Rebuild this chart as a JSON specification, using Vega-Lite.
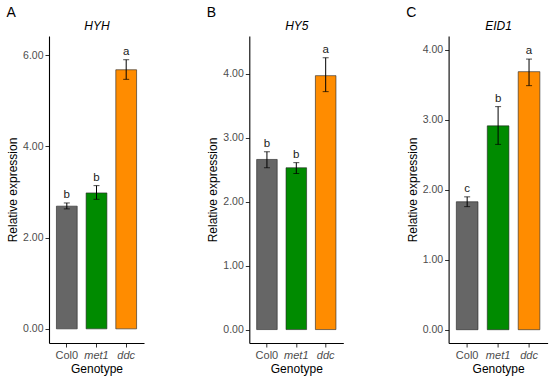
{
  "$schema": "https://vega.github.io/schema/vega-lite/v6.json",
  "padding": {"left": 6, "top": 6, "right": 3, "bottom": 2},
  "background": "white",
  "data": {"values": [
    {"gene": "HYH", "genotype": "Col0", "mean": 2.69, "lo": 2.63, "hi": 2.76, "letter": "b"},
    {"gene": "HYH", "genotype": "met1", "mean": 2.98, "lo": 2.84, "hi": 3.14, "letter": "b"},
    {"gene": "HYH", "genotype": "ddc", "mean": 5.68, "lo": 5.47, "hi": 5.90, "letter": "a"},
    {"gene": "HY5", "genotype": "Col0", "mean": 2.66, "lo": 2.53, "hi": 2.78, "letter": "b"},
    {"gene": "HY5", "genotype": "met1", "mean": 2.53, "lo": 2.44, "hi": 2.61, "letter": "b"},
    {"gene": "HY5", "genotype": "ddc", "mean": 3.97, "lo": 3.72, "hi": 4.25, "letter": "a"},
    {"gene": "EID1", "genotype": "Col0", "mean": 1.83, "lo": 1.76, "hi": 1.90, "letter": "c"},
    {"gene": "EID1", "genotype": "met1", "mean": 2.915, "lo": 2.65, "hi": 3.19, "letter": "b"},
    {"gene": "EID1", "genotype": "ddc", "mean": 3.69, "lo": 3.49, "hi": 3.87, "letter": "a"}
  ]},
  "spacing": 62.3,
  "hconcat": [
    {
      "width": 95, "height": 307,
      "title": {"text": "A"},
      "transform": [{"filter": "datum.gene == 'HYH'"}],
      "resolve": {"axis": {"x": "independent"}},
      "layer": [
        {"mark": {"type": "bar", "stroke": "#222222", "strokeWidth": 0.6},
         "encoding": {
           "x": {"field": "genotype", "type": "nominal", "sort": ["Col0", "met1", "ddc"], "title": "Genotype",
                 "scale": {"paddingInner": 0.3, "paddingOuter": 0.25}, "axis": {"orient": "bottom"}},
           "y": {"field": "mean", "type": "quantitative", "title": "Relative expression",
                 "scale": {"domain": [-0.31, 6.42], "nice": false, "zero": false},
                 "axis": {"values": [0, 2, 4, 6], "format": ".2f"}},
           "y2": {"datum": 0},
           "color": {"field": "genotype", "type": "nominal", "legend": null,
                     "scale": {"domain": ["Col0", "met1", "ddc"], "range": ["#666666", "#008B00", "#FF8C00"]}}
         }},
        {"mark": {"type": "rule", "color": "black", "strokeWidth": 1},
         "encoding": {"x": {"field": "genotype", "type": "nominal", "sort": ["Col0", "met1", "ddc"], "axis": null},
                      "y": {"field": "lo", "type": "quantitative", "title": "Relative expression"}, "y2": {"field": "hi"}}},
        {"mark": {"type": "tick", "color": "black", "thickness": 1, "size": 6},
         "encoding": {"x": {"field": "genotype", "type": "nominal", "sort": ["Col0", "met1", "ddc"], "axis": null},
                      "y": {"field": "lo", "type": "quantitative", "title": "Relative expression"}}},
        {"mark": {"type": "tick", "color": "black", "thickness": 1, "size": 6},
         "encoding": {"x": {"field": "genotype", "type": "nominal", "sort": ["Col0", "met1", "ddc"], "axis": null},
                      "y": {"field": "hi", "type": "quantitative", "title": "Relative expression"}}},
        {"mark": {"type": "text", "dy": -8, "fontSize": 11.5, "color": "#1a1a1a", "baseline": "middle"},
         "encoding": {"x": {"field": "genotype", "type": "nominal", "sort": ["Col0", "met1", "ddc"], "axis": null},
                      "y": {"field": "hi", "type": "quantitative", "title": "Relative expression"}, "text": {"field": "letter"}}},
        {"mark": {"type": "rule", "opacity": 0},
         "encoding": {"x": {"field": "genotype", "type": "nominal", "sort": ["Col0", "met1", "ddc"], "title": "HYH",
                            "axis": {"orient": "top", "domain": false, "ticks": false, "labels": false, "titleFontStyle": "italic", "titleColor": "black", "titleFontSize": 12, "titlePadding": 4}}}}
      ]
    },
    {
      "width": 94, "height": 307,
      "title": {"text": "B"},
      "transform": [{"filter": "datum.gene == 'HY5'"}],
      "resolve": {"axis": {"x": "independent"}},
      "layer": [
        {"mark": {"type": "bar", "stroke": "#222222", "strokeWidth": 0.6},
         "encoding": {
           "x": {"field": "genotype", "type": "nominal", "sort": ["Col0", "met1", "ddc"], "title": "Genotype",
                 "scale": {"paddingInner": 0.3, "paddingOuter": 0.25}, "axis": {"orient": "bottom"}},
           "y": {"field": "mean", "type": "quantitative", "title": "Relative expression",
                 "scale": {"domain": [-0.21, 4.59], "nice": false, "zero": false},
                 "axis": {"values": [0, 1, 2, 3, 4], "format": ".2f"}},
           "y2": {"datum": 0},
           "color": {"field": "genotype", "type": "nominal", "legend": null,
                     "scale": {"domain": ["Col0", "met1", "ddc"], "range": ["#666666", "#008B00", "#FF8C00"]}}
         }},
        {"mark": {"type": "rule", "color": "black", "strokeWidth": 1},
         "encoding": {"x": {"field": "genotype", "type": "nominal", "sort": ["Col0", "met1", "ddc"], "axis": null},
                      "y": {"field": "lo", "type": "quantitative", "title": "Relative expression"}, "y2": {"field": "hi"}}},
        {"mark": {"type": "tick", "color": "black", "thickness": 1, "size": 6},
         "encoding": {"x": {"field": "genotype", "type": "nominal", "sort": ["Col0", "met1", "ddc"], "axis": null},
                      "y": {"field": "lo", "type": "quantitative", "title": "Relative expression"}}},
        {"mark": {"type": "tick", "color": "black", "thickness": 1, "size": 6},
         "encoding": {"x": {"field": "genotype", "type": "nominal", "sort": ["Col0", "met1", "ddc"], "axis": null},
                      "y": {"field": "hi", "type": "quantitative", "title": "Relative expression"}}},
        {"mark": {"type": "text", "dy": -8, "fontSize": 11.5, "color": "#1a1a1a", "baseline": "middle"},
         "encoding": {"x": {"field": "genotype", "type": "nominal", "sort": ["Col0", "met1", "ddc"], "axis": null},
                      "y": {"field": "hi", "type": "quantitative", "title": "Relative expression"}, "text": {"field": "letter"}}},
        {"mark": {"type": "rule", "opacity": 0},
         "encoding": {"x": {"field": "genotype", "type": "nominal", "sort": ["Col0", "met1", "ddc"], "title": "HY5",
                            "axis": {"orient": "top", "domain": false, "ticks": false, "labels": false, "titleFontStyle": "italic", "titleColor": "black", "titleFontSize": 12, "titlePadding": 4}}}}
      ]
    },
    {
      "width": 99, "height": 307,
      "title": {"text": "C"},
      "transform": [{"filter": "datum.gene == 'EID1'"}],
      "resolve": {"axis": {"x": "independent"}},
      "layer": [
        {"mark": {"type": "bar", "stroke": "#222222", "strokeWidth": 0.6},
         "encoding": {
           "x": {"field": "genotype", "type": "nominal", "sort": ["Col0", "met1", "ddc"], "title": "Genotype",
                 "scale": {"paddingInner": 0.3, "paddingOuter": 0.25}, "axis": {"orient": "bottom"}},
           "y": {"field": "mean", "type": "quantitative", "title": "Relative expression",
                 "scale": {"domain": [-0.19, 4.2], "nice": false, "zero": false},
                 "axis": {"values": [0, 1, 2, 3, 4], "format": ".2f"}},
           "y2": {"datum": 0},
           "color": {"field": "genotype", "type": "nominal", "legend": null,
                     "scale": {"domain": ["Col0", "met1", "ddc"], "range": ["#666666", "#008B00", "#FF8C00"]}}
         }},
        {"mark": {"type": "rule", "color": "black", "strokeWidth": 1},
         "encoding": {"x": {"field": "genotype", "type": "nominal", "sort": ["Col0", "met1", "ddc"], "axis": null},
                      "y": {"field": "lo", "type": "quantitative", "title": "Relative expression"}, "y2": {"field": "hi"}}},
        {"mark": {"type": "tick", "color": "black", "thickness": 1, "size": 6},
         "encoding": {"x": {"field": "genotype", "type": "nominal", "sort": ["Col0", "met1", "ddc"], "axis": null},
                      "y": {"field": "lo", "type": "quantitative", "title": "Relative expression"}}},
        {"mark": {"type": "tick", "color": "black", "thickness": 1, "size": 6},
         "encoding": {"x": {"field": "genotype", "type": "nominal", "sort": ["Col0", "met1", "ddc"], "axis": null},
                      "y": {"field": "hi", "type": "quantitative", "title": "Relative expression"}}},
        {"mark": {"type": "text", "dy": -8, "fontSize": 11.5, "color": "#1a1a1a", "baseline": "middle"},
         "encoding": {"x": {"field": "genotype", "type": "nominal", "sort": ["Col0", "met1", "ddc"], "axis": null},
                      "y": {"field": "hi", "type": "quantitative", "title": "Relative expression"}, "text": {"field": "letter"}}},
        {"mark": {"type": "rule", "opacity": 0},
         "encoding": {"x": {"field": "genotype", "type": "nominal", "sort": ["Col0", "met1", "ddc"], "title": "EID1",
                            "axis": {"orient": "top", "domain": false, "ticks": false, "labels": false, "titleFontStyle": "italic", "titleColor": "black", "titleFontSize": 12, "titlePadding": 4}}}}
      ]
    }
  ],
  "config": {
    "font": "Liberation Sans",
    "view": {"stroke": null},
    "title": {"anchor": "start", "frame": "bounds", "fontSize": 14, "fontWeight": "normal", "color": "black", "offset": -1},
    "axis": {
      "grid": false,
      "domainColor": "black", "domainWidth": 1.1,
      "tickColor": "#333333", "tickSize": 4, "tickWidth": 1,
      "labelColor": "#4d4d4d", "labelFontSize": 10.5, "labelPadding": 2,
      "titleColor": "black", "titleFontSize": 12, "titleFontWeight": "normal"
    },
    "axisY": {"titlePadding": 3},
    "axisX": {"labelAngle": 0, "labelFontSize": 11, "titlePadding": 3,
              "labelFontStyle": {"condition": {"test": "datum.value == 'Col0'", "value": "normal"}, "value": "italic"}}
  }
}
